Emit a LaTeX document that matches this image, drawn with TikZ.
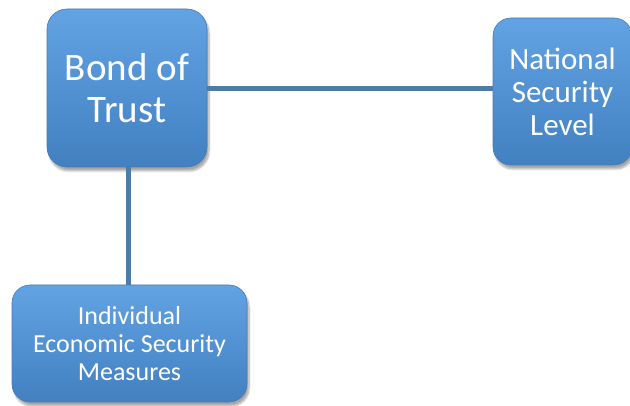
\documentclass[tikz,border=0pt]{standalone}
\usepackage{fontspec}
\setmainfont{Carlito}
\usetikzlibrary{shadows.blur}
\definecolor{boxtop}{RGB}{98,163,228}
\definecolor{boxmid}{RGB}{80,145,210}
\definecolor{boxbot}{RGB}{66,128,192}
\definecolor{boxline}{RGB}{72,125,178}
\definecolor{linkc}{RGB}{78,124,170}
\tikzset{
  boxnode/.style={rounded corners=20pt, draw=boxline, line width=0.6pt,
    top color=boxtop, middle color=boxmid, bottom color=boxbot, text=white, align=center,
    inner sep=0pt,
    blur shadow={shadow xshift=2pt, shadow yshift=-4pt, shadow blur steps=8, shadow opacity=35}},
  link/.style={draw=linkc, line width=5pt}
}
\begin{document}
\begin{tikzpicture}[x=1pt,y=1pt]
\useasboundingbox (0,0) rectangle (630,405);
\node[boxnode, minimum width=160pt, minimum height=158pt, font=\fontsize{39}{42}\selectfont] (bond) at (127,317) {Bond of\\Trust};
\node[boxnode, minimum width=139pt, minimum height=147pt, rounded corners=18pt, font=\fontsize{31}{33}\selectfont] (nat) at (562.5,313.5) {National\\Security\\Level};
\node[boxnode, minimum width=235pt, minimum height=117pt, rounded corners=18pt, font=\fontsize{26}{28}\selectfont] (ind) at (129.5,61.5) {Individual\\Economic Security\\Measures};
\draw[link] ([yshift=-1pt]bond.east) -- ([yshift=-1pt]bond.east -| nat.west);
\draw[link] ([xshift=1pt]bond.south) -- ([xshift=1pt]bond.south |- ind.north);
\end{tikzpicture}
\end{document}
